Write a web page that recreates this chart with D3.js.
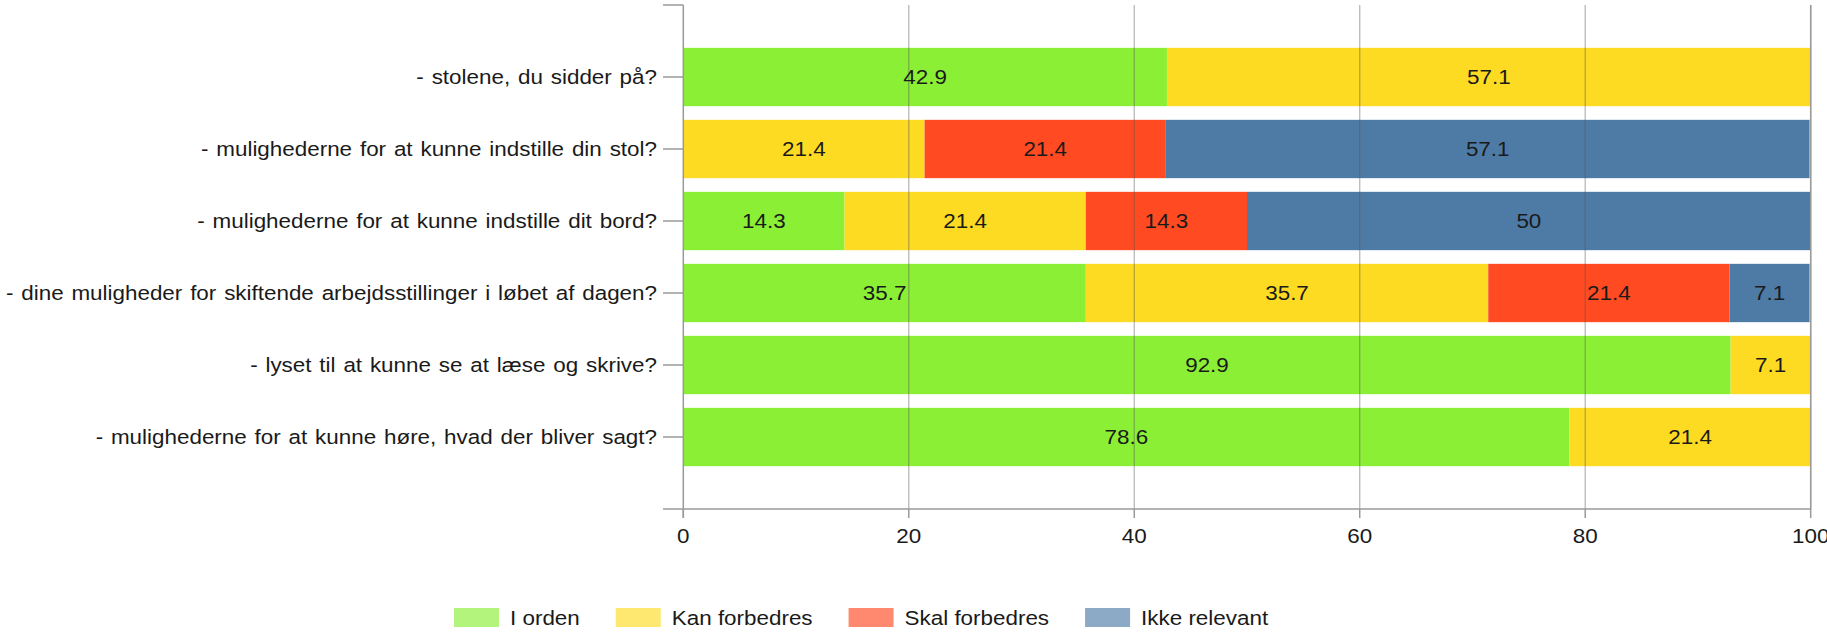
<!DOCTYPE html>
<html>
<head>
<meta charset="utf-8">
<script src="https://cdn.jsdelivr.net/npm/d3@7"></script>
<style>
  html, body { margin: 0; padding: 0; background: #fff; }
  svg { display: block; }
  text { font-family: "Liberation Sans", Arial, sans-serif; }
</style>
</head>
<body>
<svg id="chart" width="1827" height="632"></svg>
<script>
const categories = [
  "- stolene, du sidder på?",
  "- mulighederne for at kunne indstille din stol?",
  "- mulighederne for at kunne indstille dit bord?",
  "- dine muligheder for skiftende arbejdsstillinger i løbet af dagen?",
  "- lyset til at kunne se at læse og skrive?",
  "- mulighederne for at kunne høre, hvad der bliver sagt?"
];
const seriesNames = ["I orden", "Kan forbedres", "Skal forbedres", "Ikke relevant"];
const iOrden       = [42.9, 0,    14.3, 35.7, 92.9, 78.6];
const kanForbedres = [57.1, 21.4, 21.4, 35.7, 7.1,  21.4];
const skalForbedres= [0,    21.4, 14.3, 21.4, 0,    0];
const ikkeRelevant = [0,    57.1, 50,   7.1,  0,    0];
const xTicks = [0, 20, 40, 60, 80, 100];
const colors = ["#8bf035", "#fedb23", "#ff4a22", "#4e7ba6"];

const seriesValues = [iOrden, kanForbedres, skalForbedres, ikkeRelevant];
const rows = categories.map((c, i) => {
  const r = { cat: c };
  seriesNames.forEach((s, j) => r[s] = seriesValues[j][i]);
  return r;
});

const svg = d3.select("#chart");
const FS = 19.5, SX = 1.15;
const axisColor = "#9a9a9a";

const x = d3.scaleLinear().domain([0, 100]).range([683.3, 1810.7]);
const pIn = 0.19;
const y = d3.scaleBand().domain(categories).range([5, 509])
  .paddingInner(pIn).paddingOuter((1 + pIn) / 2);

function stretchedText(g, tx, ty, str, anchor, color) {
  return g.append("text")
    .attr("transform", `translate(${tx},${ty}) scale(${SX},1)`)
    .attr("text-anchor", anchor)
    .attr("dominant-baseline", "central")
    .attr("font-size", FS)
    .attr("fill", color || "#1a1a1a")
    .text(str);
}

// stacked bars
const stack = d3.stack().keys(seriesNames);
const stacked = stack(rows);
const barsG = svg.append("g");
stacked.forEach((layer, j) => {
  barsG.selectAll(null).data(layer).enter()
    .filter(d => d[1] - d[0] > 0)
    .append("rect")
    .attr("x", d => x(d[0]))
    .attr("y", d => y(d.data.cat))
    .attr("width", d => x(d[1]) - x(d[0]))
    .attr("height", y.bandwidth())
    .attr("fill", colors[j]);
});

// gridlines (drawn over bars, semi-transparent)
const gridG = svg.append("g");
gridG.selectAll("line").data(xTicks.filter(t => t > 0)).enter().append("line")
  .attr("x1", d => x(d)).attr("x2", d => x(d))
  .attr("y1", 5).attr("y2", 509)
  .attr("stroke", "#555").attr("stroke-opacity", 0.42).attr("stroke-width", 1.3);

// value labels
const labG = svg.append("g");
stacked.forEach((layer, j) => {
  layer.forEach(d => {
    const v = d[1] - d[0];
    if (v > 0) {
      stretchedText(labG, (x(d[0]) + x(d[1])) / 2, y(d.data.cat) + y.bandwidth() / 2,
        String(+v.toFixed(1)), "middle", "#1a1a1a");
    }
  });
});

// axes
const axG = svg.append("g").attr("stroke", axisColor).attr("stroke-width", 1.5);
axG.append("line").attr("x1", x(0)).attr("x2", x(0)).attr("y1", 5).attr("y2", 518);
axG.append("line").attr("x1", 663).attr("x2", x(0)).attr("y1", 5).attr("y2", 5);
axG.append("line").attr("x1", 663).attr("x2", x(100)).attr("y1", 509).attr("y2", 509);
axG.selectAll(".xt").data(xTicks).enter().append("line")
  .attr("x1", d => x(d)).attr("x2", d => x(d))
  .attr("y1", d => d === 100 ? 5 : 509).attr("y2", 518);
axG.selectAll(".yt").data(categories).enter().append("line")
  .attr("x1", 663).attr("x2", x(0))
  .attr("y1", d => y(d) + y.bandwidth() / 2).attr("y2", d => y(d) + y.bandwidth() / 2);

// tick labels
const tlG = svg.append("g");
xTicks.forEach(t => stretchedText(tlG, x(t), 536, String(t), "middle", "#1a1a1a"));
categories.forEach(c => stretchedText(tlG, 657, y(c) + y.bandwidth() / 2, c, "end", "#1a1a1a")
  .attr("word-spacing", 1.4));

// legend
const legG = svg.append("g");
let lx = 454;
const gap = 36;
seriesNames.forEach((s, j) => {
  legG.append("rect").attr("x", lx).attr("y", 608).attr("width", 45).attr("height", 19)
    .attr("fill", colors[j]).attr("fill-opacity", 0.65);
  const t = stretchedText(legG, lx + 56, 618, s, "start", "#1a1a1a");
  const w = t.node().getComputedTextLength() * SX;
  lx += 56 + w + gap;
});
</script>
</body>
</html>
